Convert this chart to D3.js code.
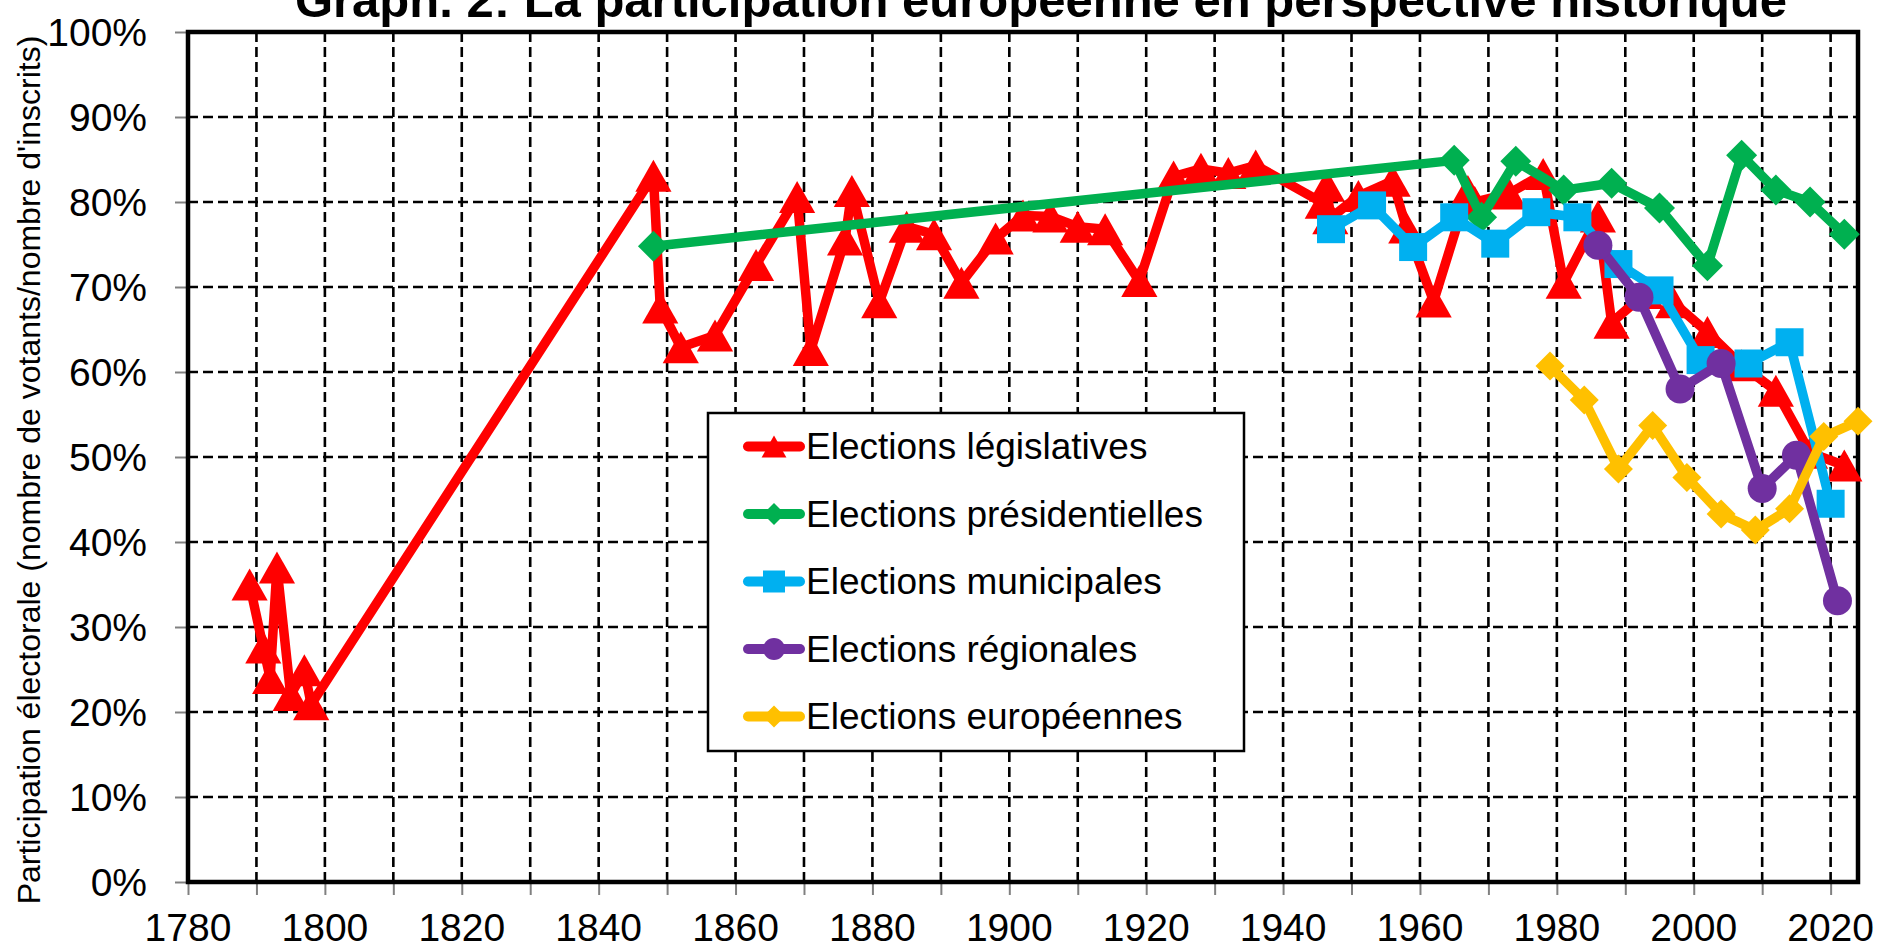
<!DOCTYPE html>
<html><head><meta charset="utf-8">
<script src="https://cdn.jsdelivr.net/npm/d3@7/dist/d3.min.js"></script>
<style>html,body{margin:0;padding:0;background:#fff;overflow:hidden}svg{display:block}</style>
</head><body>
<script>
// ---------- DATA ----------
const titleText = "Graph. 2: La participation européenne en perspective historique";
const yAxisTitle = "Participation électorale (nombre de votants/nombre d'inscrits)";
const xTickLabels = [1780,1800,1820,1840,1860,1880,1900,1920,1940,1960,1980,2000,2020];
const xGridYears = [1790,1800,1810,1820,1830,1840,1850,1860,1870,1880,1890,1900,1910,1920,1930,1940,1950,1960,1970,1980,1990,2000,2010,2020];
const yTickValues = [0,10,20,30,40,50,60,70,80,90,100];
const seriesNames = ["Elections législatives","Elections présidentielles","Elections municipales","Elections régionales","Elections européennes"];

const legYears = [1789,1791,1792,1793,1795,1797,1798,1848,1849,1852,1857,1863,1869,1871,1876,1877,1881,1885,1889,1893,1898,1902,1906,1910,1914,1919,1924,1928,1932,1936,1945.8,1946.4,1946.9,1951,1956,1958,1962,1967,1968,1973,1978,1981,1986,1988,1993,1997,2002,2007,2012,2017,2022];
const legValues = [35.0,27.6,24.0,37.0,22.0,24.9,20.9,83.1,67.6,62.9,64.3,72.6,80.6,62.6,75.6,81.3,68.2,77.1,76.2,70.5,75.7,78.4,78.3,77.1,76.8,70.7,83.0,83.9,83.4,84.3,79.9,81.9,78.1,80.7,82.5,77.0,68.3,81.3,80.0,81.0,83.3,70.5,78.3,65.8,69.3,68.2,64.7,60.8,57.8,50.5,49.0];

const presYears = [1848,1965,1969,1974,1981,1988,1995,2002,2007,2012,2017,2022];
const presValues = [74.8,84.9,78.2,84.8,81.4,82.2,79.3,72.5,85.5,81.4,80.0,76.2];

const munYears = [1947,1953,1959,1965,1971,1977,1983,1989,1995,2001,2008,2014,2020];
const munValues = [76.8,79.6,74.7,78.2,75.1,78.8,78.2,72.7,69.6,61.4,61.0,63.5,44.5];

const regYears = [1986,1992,1998,2004,2010,2015,2021];
const regValues = [74.9,68.8,58.0,61.0,46.3,50.2,33.1];

const euYears = [1979,1984,1989,1994,1999,2004,2009,2014,2019,2024];
const euValues = [60.7,56.7,48.6,53.7,47.6,43.3,41.4,43.9,52.4,54.2];

// ---------- LAYOUT ----------
const W = 1883, H = 950;
const FONT = "'Liberation Sans', Arial, Helvetica, sans-serif";
const x = d3.scaleLinear().domain([1780, 2024]).range([188, 1858]);
const y = d3.scaleLinear().domain([0, 100]).range([882, 32]);

const svg = d3.select("body").append("svg").attr("width", W).attr("height", H);

// Title
svg.append("text").attr("x", 1041).attr("y", 17).attr("text-anchor", "middle")
  .attr("font-family", FONT).attr("font-weight", "bold").attr("font-size", 49)
  .text(titleText);

// Grid
const grid = svg.append("g").attr("stroke", "#000").attr("stroke-width", 2.6).attr("stroke-dasharray", "10,5");
grid.selectAll("line.v").data(xGridYears).join("line")
  .attr("x1", d => x(d)).attr("x2", d => x(d)).attr("y1", y(100)).attr("y2", y(0));
grid.selectAll("line.h").data(yTickValues.filter(v => v > 0 && v < 100)).join("line")
  .attr("class","h").attr("x1", x(1780)).attr("x2", x(2024)).attr("y1", d => y(d)).attr("y2", d => y(d));

// Axes ticks
const xAxis = d3.axisBottom(x).tickValues([1780].concat(xGridYears)).tickSize(13).tickFormat("");
const gx = svg.append("g").attr("transform", `translate(0,${y(0)})`).call(xAxis);
gx.select(".domain").remove();
gx.selectAll(".tick line").attr("stroke", "#808080").attr("stroke-width", 2);

const yAxis = d3.axisLeft(y).tickValues(yTickValues).tickSize(13).tickFormat("");
const gy = svg.append("g").attr("transform", `translate(${x(1780)},0)`).call(yAxis);
gy.select(".domain").remove();
gy.selectAll(".tick line").attr("stroke", "#808080").attr("stroke-width", 2);

// Tick labels
svg.append("g").selectAll("text").data(xTickLabels).join("text")
  .attr("x", d => x(d)).attr("y", 941).attr("text-anchor", "middle")
  .attr("font-family", FONT).attr("font-size", 39).text(d => d);
svg.append("g").selectAll("text").data(yTickValues).join("text")
  .attr("x", 147).attr("y", d => y(d) + 14).attr("text-anchor", "end")
  .attr("font-family", FONT).attr("font-size", 39).text(d => d + "%");

// Y title
svg.append("text").attr("transform", "translate(40,470) rotate(-90)")
  .attr("text-anchor", "middle").attr("font-family", FONT).attr("font-size", 32)
  .text(yAxisTitle);

// Frame
svg.append("rect").attr("x", x(1780)).attr("y", y(100))
  .attr("width", x(2024) - x(1780)).attr("height", y(0) - y(100))
  .attr("fill", "none").attr("stroke", "#000").attr("stroke-width", 4.5);

// Markers
function markerPath(type, s) {
  if (type === "triangle") { const w = s * 1.13, h = s; return `M0,${-h/2}L${w/2},${h/2}L${-w/2},${h/2}Z`; }
  if (type === "diamond") { return `M0,${-s/2}L${s/2},0L0,${s/2}L${-s/2},0Z`; }
  if (type === "square") { return `M${-s/2},${-s/2}h${s}v${s}h${-s}Z`; }
  const r = s / 2; return `M${r},0A${r},${r} 0 1,1 ${-r},0A${r},${r} 0 1,1 ${r},0Z`;
}

const series = [
  { name: seriesNames[0], years: legYears, values: legValues, color: "#FF0000", marker: "triangle", size: 32 },
  { name: seriesNames[1], years: presYears, values: presValues, color: "#00B050", marker: "diamond", size: 31 },
  { name: seriesNames[2], years: munYears, values: munValues, color: "#00B0F0", marker: "square", size: 28 },
  { name: seriesNames[3], years: regYears, values: regValues, color: "#7030A0", marker: "circle", size: 29 },
  { name: seriesNames[4], years: euYears, values: euValues, color: "#FFC000", marker: "diamond", size: 29 }
];

const line = d3.line().x(d => x(d[0])).y(d => y(d[1]));
series.forEach(s => {
  const pts = s.years.map((yr, i) => [yr, s.values[i]]);
  const g = svg.append("g");
  g.append("path").attr("d", line(pts)).attr("fill", "none").attr("stroke", s.color)
    .attr("stroke-width", 9.5).attr("stroke-linejoin", "round").attr("stroke-linecap", "round");
  g.selectAll("path.m").data(pts).join("path").attr("class", "m")
    .attr("transform", d => `translate(${x(d[0])},${y(d[1])})`)
    .attr("d", markerPath(s.marker, s.size)).attr("fill", s.color);
});

// Legend
const lg = svg.append("g");
lg.append("rect").attr("x", 708).attr("y", 413).attr("width", 536).attr("height", 338)
  .attr("fill", "#fff").attr("stroke", "#000").attr("stroke-width", 2.5);
series.forEach((s, i) => {
  const cy = 446.5 + i * 67.5;
  lg.append("line").attr("x1", 748).attr("x2", 800).attr("y1", cy).attr("y2", cy)
    .attr("stroke", s.color).attr("stroke-width", 10).attr("stroke-linecap", "round");
  lg.append("path").attr("transform", `translate(774,${cy})`)
    .attr("d", markerPath(s.marker, 22)).attr("fill", s.color);
  lg.append("text").attr("x", 806).attr("y", cy + 12.5).attr("font-family", FONT)
    .attr("font-size", 37).text(s.name);
});
</script>
</body></html>
